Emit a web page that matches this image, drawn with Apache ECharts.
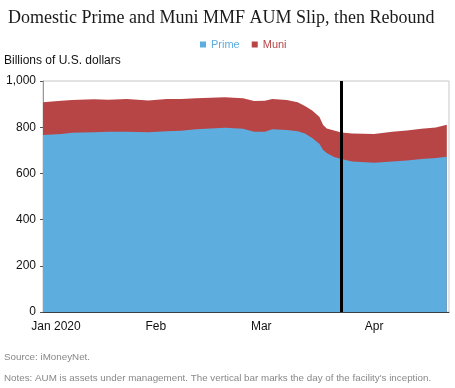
<!DOCTYPE html>
<html>
<head>
<meta charset="utf-8">
<script src="https://cdn.jsdelivr.net/npm/echarts@6/dist/echarts.min.js"></script>
<style>
html,body{margin:0;padding:0;background:#fff;}
#chart{width:455px;height:388px;}
</style>
</head>
<body>
<div id="chart"></div>
<script>
// ---- data ----
const dates = ['2020-01-01','2020-01-06','2020-01-09','2020-01-15','2020-01-19','2020-01-24','2020-01-30',
  '2020-02-04','2020-02-08','2020-02-12','2020-02-20','2020-02-25','2020-02-28',
  '2020-03-02','2020-03-04','2020-03-08','2020-03-11','2020-03-13','2020-03-15','2020-03-17','2020-03-18',
  '2020-03-19','2020-03-21','2020-03-23','2020-03-26',
  '2020-04-01','2020-04-06','2020-04-10','2020-04-14','2020-04-18','2020-04-21'];
const prime = [766,771,776,778,780,780,778,
  782,785,791,798,793,780,
  780,791,788,782,773,753,727,701,
  688,671,662,651,
  646,651,656,662,667,672];
const muni = [142,144,142,143,139,142,138,
  140,137,134,132,132,133,
  135,131,130,126,119,119,117,108,
  106,115,115,122,
  125,129,130,131,132,139];
const tickDates = ['2020-01-01','2020-02-01','2020-03-01','2020-04-01'];
const tickLabels = ['Jan 2020','Feb','Mar','Apr'];
const inceptionDate = '2020-03-23';
const endDate = '2020-04-21';
const yTicks = {min: 0, max: 1000, interval: 200};

// ---- helpers ----
const base = Date.UTC(2020,0,1);
function dayOf(s){const p=s.split('-').map(Number);return (Date.UTC(p[0],p[1]-1,p[2])-base)/86400000;}
const days = dates.map(dayOf);
const tickDays = tickDates.map(dayOf);
// stacked total (prime + muni), drawn behind prime
const total = prime.map((v,i)=>v+muni[i]);

const BLUE = '#5DADDF', RED = '#B84546';
const chart = echarts.init(document.getElementById('chart'), null, {renderer:'canvas'});
const option = {
  animation:false,
  backgroundColor:'#fff',
  title:{
    text:'Domestic Prime and Muni MMF AUM Slip, then Rebound',
    left:3, top:4,
    textStyle:{fontFamily:'Liberation Serif', fontWeight:'normal', fontSize:18, color:'#1a1a1a'}
  },
  legend:{
    data:[{name:'Prime', textStyle:{color:BLUE}},{name:'Muni', textStyle:{color:RED}}],
    top:34, left:195,
    itemWidth:6, itemHeight:6, itemGap:12,
    icon:'rect',
    textStyle:{fontFamily:'Liberation Sans', fontSize:11},
    selectedMode:false
  },
  graphic:[
    {type:'text', left:4, top:55, style:{text:'Billions of U.S. dollars', font:'12px "Liberation Sans"', fill:'#111'}},
    {type:'text', left:4, top:352, style:{text:'Source: iMoneyNet.', font:'9.8px "Liberation Sans"', fill:'#888'}},
    {type:'text', left:4, top:373, style:{text:"Notes: AUM is assets under management. The vertical bar marks the day of the facility's inception.", font:'9.8px "Liberation Sans"', fill:'#888'}}
  ],
  grid:{left:43, right:6, top:81, bottom:76, show:true, borderColor:'#c8c8c8', borderWidth:1, containLabel:false},
  xAxis:{
    type:'value', min:0, max:dayOf(endDate)+0.6,
    splitLine:{show:false},
    axisLine:{lineStyle:{color:'#3a3f47', width:1}},
    axisTick:{show:true, inside:true, length:3, customValues:tickDays, lineStyle:{color:'#3a3f47'}},
    axisLabel:{
      customValues:tickDays, margin:9, color:'#111', fontFamily:'Liberation Sans', fontSize:12,
      formatter:v=>{const i=tickDays.indexOf(v); return i===0?'{j|'+tickLabels[0]+'}':tickLabels[i];},
      rich:{j:{padding:[0,0,0,26], fontFamily:'Liberation Sans', fontSize:12, color:'#111'}}
    }
  },
  yAxis:{
    type:'value', min:yTicks.min, max:yTicks.max, interval:yTicks.interval,
    splitLine:{show:false},
    axisLine:{show:true, lineStyle:{color:'#999', width:1}},
    axisTick:{show:true, length:3, lineStyle:{color:'#555'}},
    axisLabel:{margin:7, color:'#111', fontFamily:'Liberation Sans', fontSize:12,
      formatter:v=>v.toLocaleString('en-US')}
  },
  series:[
    {
      name:'Prime', type:'line', showSymbol:false, symbol:'none',
      itemStyle:{color:BLUE}, lineStyle:{width:0},
      areaStyle:{color:BLUE, opacity:1},
      data:days.map((d,i)=>[d,prime[i]]),
      markLine:{
        silent:true, symbol:['none','none'], label:{show:false},
        lineStyle:{color:'#000', width:3, type:'solid'},
        data:[{xAxis:dayOf(inceptionDate)}]
      },
      z:3
    },
    {
      name:'Muni', type:'line', showSymbol:false, symbol:'none',
      itemStyle:{color:RED}, lineStyle:{width:0},
      areaStyle:{color:RED, opacity:1},
      data:days.map((d,i)=>[d,total[i]]),
      z:2
    }
  ]
};
chart.setOption(option);
</script>
</body>
</html>
